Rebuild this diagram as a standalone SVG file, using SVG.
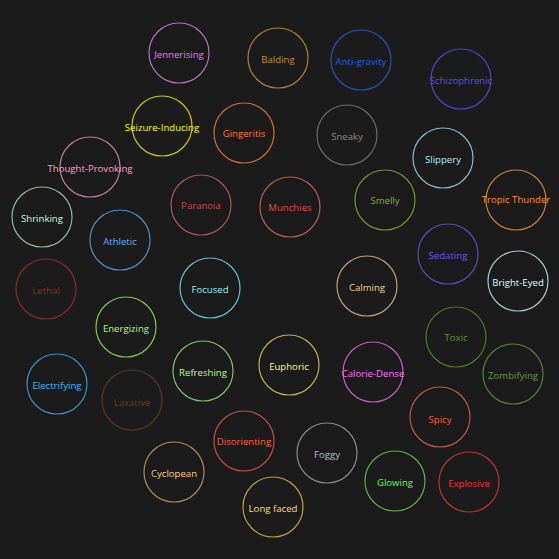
<svg xmlns="http://www.w3.org/2000/svg" width="559" height="559" viewBox="0 0 559 559">
<style>
.n circle{fill:none;stroke-width:1.2}
.n text{font-family:"Open Sans","Noto Sans","DejaVu Sans",sans-serif;font-size:9.6px;text-anchor:middle;dominant-baseline:central}
</style>
<rect width="559" height="559" fill="#1b1b1b"/>
<g id="connectors"/>
<g id="Jennerising" class="n"><circle cx="179" cy="53" r="30" stroke="#b86fc0"/><text x="179" y="54" fill="#e080f0">Jennerising</text></g>
<g id="Balding" class="n"><circle cx="278" cy="58" r="30" stroke="#b08030"/><text x="278" y="59" fill="#d08a30">Balding</text></g>
<g id="Anti-gravity" class="n"><circle cx="361" cy="60" r="30" stroke="#2450b0"/><text x="361" y="61" fill="#2b5ce6">Anti-gravity</text></g>
<g id="Schizophrenic" class="n"><circle cx="461" cy="79" r="30" stroke="#5040c8"/><text x="461" y="80" fill="#5a4cf0">Schizophrenic</text></g>
<g id="Sneaky" class="n"><circle cx="347" cy="135" r="30" stroke="#6a6a6a"/><text x="347" y="136" fill="#888888">Sneaky</text></g>
<g id="Slippery" class="n"><circle cx="443" cy="158" r="30" stroke="#8ab8cc"/><text x="443" y="159" fill="#b8ecff">Slippery</text></g>
<g id="Seizure-Inducing" class="n"><circle cx="162" cy="126" r="30" stroke="#c8c800"/><text x="162" y="127" fill="#ffff00">Seizure-Inducing</text></g>
<g id="Gingeritis" class="n"><circle cx="244" cy="133" r="30" stroke="#c87030"/><text x="244" y="133" fill="#ff7a30">Gingeritis</text></g>
<g id="Thought-Provoking" class="n"><circle cx="90" cy="167" r="30" stroke="#c07a98"/><text x="90" y="168" fill="#ffa0c8">Thought-Provoking</text></g>
<g id="Shrinking" class="n"><circle cx="42" cy="217" r="30" stroke="#8ab8a0"/><text x="42" y="218" fill="#c8ffe0">Shrinking</text></g>
<g id="Athletic" class="n"><circle cx="120" cy="240" r="30" stroke="#5090c0"/><text x="120" y="241" fill="#60b0ff">Athletic</text></g>
<g id="Paranoia" class="n"><circle cx="201" cy="205" r="30" stroke="#a85858"/><text x="201" y="205" fill="#d04848">Paranoia</text></g>
<g id="Munchies" class="n"><circle cx="290" cy="207" r="30" stroke="#b06050"/><text x="290" y="207" fill="#e05040">Munchies</text></g>
<g id="Lethal" class="n"><circle cx="46" cy="289" r="30" stroke="#8a2828"/><text x="46" y="290" fill="#a02020">Lethal</text></g>
<g id="Focused" class="n"><circle cx="210" cy="288" r="30" stroke="#60c0d0"/><text x="210" y="289" fill="#90f0ff">Focused</text></g>
<g id="Energizing" class="n"><circle cx="126" cy="327" r="30" stroke="#80c850"/><text x="126" y="328" fill="#a8ff60">Energizing</text></g>
<g id="Smelly" class="n"><circle cx="385" cy="200" r="30" stroke="#6a9a30"/><text x="385" y="200" fill="#80b030">Smelly</text></g>
<g id="Tropic Thunder" class="n"><circle cx="516" cy="200" r="30" stroke="#c88040"/><text x="516" y="199" fill="#ff8c30">Tropic Thunder</text></g>
<g id="Sedating" class="n"><circle cx="448" cy="254" r="30" stroke="#5a4ac0"/><text x="448" y="255" fill="#6a5af0">Sedating</text></g>
<g id="Calming" class="n"><circle cx="367" cy="286" r="30" stroke="#c0a070"/><text x="367" y="287" fill="#ffd090">Calming</text></g>
<g id="Bright-Eyed" class="n"><circle cx="518" cy="281" r="30" stroke="#a0cccc"/><text x="518" y="282" fill="#e0ffff">Bright-Eyed</text></g>
<g id="Toxic" class="n"><circle cx="456" cy="337" r="30" stroke="#4a7a20"/><text x="456" y="337" fill="#5a9a20">Toxic</text></g>
<g id="Zombifying" class="n"><circle cx="513" cy="374" r="30" stroke="#508040"/><text x="513" y="375" fill="#60a040">Zombifying</text></g>
<g id="Euphoric" class="n"><circle cx="289" cy="365" r="30" stroke="#c0b050"/><text x="289" y="366" fill="#ffff80">Euphoric</text></g>
<g id="Calorie-Dense" class="n"><circle cx="373" cy="372" r="30" stroke="#c060c0"/><text x="373" y="373" fill="#ff70ff">Calorie-Dense</text></g>
<g id="Refreshing" class="n"><circle cx="203" cy="371" r="30" stroke="#80c060"/><text x="203" y="372" fill="#b8ff90">Refreshing</text></g>
<g id="Electrifying" class="n"><circle cx="57" cy="384" r="30" stroke="#3a90c0"/><text x="57" y="385" fill="#40b8ff">Electrifying</text></g>
<g id="Laxative" class="n"><circle cx="132" cy="400" r="30" stroke="#5a3424"/><text x="132" y="402" fill="#6a3a20">Laxative</text></g>
<g id="Disorienting" class="n"><circle cx="244" cy="441" r="30" stroke="#c05040"/><text x="244" y="441" fill="#ff6040">Disorienting</text></g>
<g id="Cyclopean" class="n"><circle cx="174" cy="472" r="30" stroke="#b08858"/><text x="174" y="473" fill="#ffd080">Cyclopean</text></g>
<g id="Long faced" class="n"><circle cx="273" cy="507" r="30" stroke="#c0a040"/><text x="273" y="508" fill="#ffe050">Long faced</text></g>
<g id="Spicy" class="n"><circle cx="440" cy="417" r="30" stroke="#c05a48"/><text x="440" y="419" fill="#ff5a40">Spicy</text></g>
<g id="Foggy" class="n"><circle cx="327" cy="453" r="30" stroke="#8a8a8a"/><text x="327" y="454" fill="#b0c0d0">Foggy</text></g>
<g id="Glowing" class="n"><circle cx="395" cy="481" r="30" stroke="#60b040"/><text x="395" y="482" fill="#60ff40">Glowing</text></g>
<g id="Explosive" class="n"><circle cx="469" cy="482" r="30" stroke="#c03030"/><text x="469" y="483" fill="#ff3030">Explosive</text></g>
</svg>
